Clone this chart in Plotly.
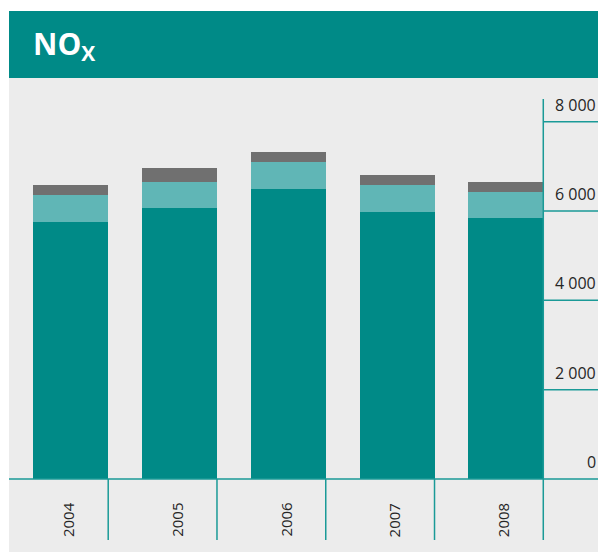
import plotly.graph_objects as go

years = ["2004", "2005", "2006", "2007", "2008"]
base_vals = [5750, 6070, 6490, 5980, 5840]
mid_vals = [600, 590, 605, 605, 590]
top_vals = [225, 310, 225, 225, 225]
y_ticks = [0, 2000, 4000, 6000, 8000]
y_tick_labels = ["0", "2 000", "4 000", "6 000", "8 000"]

DARK = "#008A87"
LIGHT = "#60B6B6"
GREY = "#707070"
BG = "#ECECEC"
LINE = "#1A9A97"
TXT = "#262626"

OFF = 8  # browser body margin
W, H = 606 - OFF, 552 - OFF
ML, MT = 9 - OFF, 78 - OFF
px_per_cat = 108.95
x0_data = -(70.9 - 9) / px_per_cat          # left edge of plot in category units
x1_data = x0_data + W / px_per_cat
px_per_val = 44.66 / 1000
y_top = (479 - 78) / px_per_val
y_bot = -(552 - 479) / px_per_val

xs = list(range(len(years)))
half = 0.344

fig = go.Figure()
for vals, col in [(base_vals, DARK), (mid_vals, LIGHT), (top_vals, GREY)]:
    fig.add_trace(go.Bar(x=xs, y=vals, marker=dict(color=col, line=dict(width=0)),
                         width=2 * half, hoverinfo="skip"))

shapes = []
axis_x = len(years) - 1 + half
tick_end = x0_data + (599 - 9) / px_per_cat
sep_bottom = -(540 - 479) / px_per_val
for t in y_ticks:
    shapes.append(dict(type="line", xref="x", yref="y", x0=axis_x, x1=tick_end, y0=t, y1=t,
                       line=dict(color=LINE, width=1.5)))
shapes.append(dict(type="line", xref="x", yref="y", x0=x0_data, x1=axis_x, y0=0, y1=0,
                   line=dict(color=LINE, width=1.5)))
shapes.append(dict(type="line", xref="x", yref="y", x0=axis_x, x1=axis_x,
                   y0=sep_bottom, y1=(479 - 99) / px_per_val, line=dict(color=LINE, width=1.5)))
for i in xs[:-1]:
    shapes.append(dict(type="line", xref="x", yref="y", x0=i + half, x1=i + half,
                       y0=sep_bottom, y1=0, line=dict(color=LINE, width=1.5)))
plot_h = H - MT
shapes.append(dict(type="rect", xref="paper", yref="paper", x0=0, x1=1,
                   y0=1, y1=1 + (78 - 11) / plot_h, line=dict(width=0), fillcolor=DARK, layer="above"))

annotations = []
for t, lab in zip(y_ticks, y_tick_labels):
    annotations.append(dict(x=tick_end, y=t, xref="x", yref="y", text=lab, showarrow=False,
                            xanchor="right", yanchor="bottom", yshift=4, xshift=0,
                            font=dict(family="Open Sans", size=16, color=TXT)))
label_y = -(520 - 479) / px_per_val
for i, yr in zip(xs, years):
    annotations.append(dict(x=i - 0.025, y=label_y, xref="x", yref="y", text=yr, showarrow=False,
                            textangle=-90, xanchor="center", yanchor="middle",
                            font=dict(family="Open Sans", size=15, color=TXT)))
annotations.append(dict(x=(31 - 9) / W, y=1 + (78 - 45) / plot_h, xref="paper", yref="paper",
                        text="<b>NO</b><sub><b>X</b></sub>",
                        showarrow=False, xanchor="left", yanchor="middle",
                        font=dict(family="Open Sans", size=30, color="white")))

fig.update_layout(
    width=W, height=H,
    margin=dict(l=ML, r=0, t=MT, b=0, pad=0),
    paper_bgcolor="white", plot_bgcolor=BG,
    barmode="stack", showlegend=False,
    xaxis=dict(range=[x0_data, x1_data], visible=False, fixedrange=True),
    yaxis=dict(range=[y_bot, y_top], visible=False, fixedrange=True),
    shapes=shapes, annotations=annotations,
)
fig.write_html("out.html")
